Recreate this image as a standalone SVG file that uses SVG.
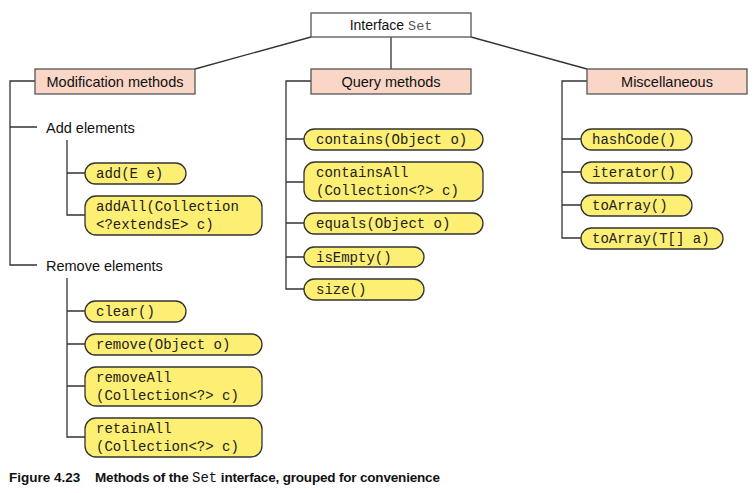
<svg xmlns="http://www.w3.org/2000/svg" width="756" height="493" viewBox="0 0 756 493">
<style>
.ln{stroke:#333;stroke-width:1.3;fill:none}
.hdr{fill:#f9d6c6;stroke:#555;stroke-width:1.3}
.top{fill:#fff;stroke:#555;stroke-width:1.3}
.pill{fill:#fdee74;stroke:#333;stroke-width:1.3}
.sans{font-family:"Liberation Sans",Arial,sans-serif;font-size:14.5px;fill:#111}
.mono{font-family:"Liberation Mono","Courier New",monospace;font-size:14px;fill:#222}
.cap{font-family:"Liberation Sans",Arial,sans-serif;font-size:13.5px;font-weight:bold;fill:#111}
</style>
<rect width="756" height="493" fill="#fff"/>
<g id="connectors">
<path class="ln" d="M311,37 L195,69 M391,37 V69 M471,37 L587,69"/>
<path class="ln" d="M35,81 H10 V265 H37 M10,127 H37"/>
<path class="ln" d="M67,140 V215 H85 M67,173 H85"/>
<path class="ln" d="M67,278 V437 H85 M67,311 H85 M67,344 H85 M67,386 H85"/>
<path class="ln" d="M311,81 H286 V289 H304 M286,139 H304 M286,182 H304 M286,223 H304 M286,257 H304"/>
<path class="ln" d="M587,81 H562 V238 H581 M562,139 H581 M562,172 H581 M562,205 H581"/>
</g>
<g id="interface-set">
<rect class="top" x="311" y="13" width="160" height="24"/>
<text x="391" y="30" text-anchor="middle" class="sans" style="font-size:14px">Interface <tspan class="mono" style="font-size:13.5px;fill:#555">Set</tspan></text>
</g>
<g id="modification-methods">
<rect class="hdr" x="35" y="69" width="160" height="25"/>
<text x="115" y="86.5" text-anchor="middle" class="sans">Modification methods</text>
</g>
<g id="query-methods">
<rect class="hdr" x="311" y="69" width="160" height="25"/>
<text x="391" y="86.5" text-anchor="middle" class="sans">Query methods</text>
</g>
<g id="miscellaneous">
<rect class="hdr" x="587" y="69" width="160" height="25"/>
<text x="667" y="86.5" text-anchor="middle" class="sans">Miscellaneous</text>
</g>
<g id="add-elements"><text x="46" y="132.5" class="sans">Add elements</text></g>
<g id="remove-elements"><text x="46" y="270.5" class="sans">Remove elements</text></g>
<g id="add"><rect class="pill" x="85" y="163" width="101" height="21" rx="10.5"/><text x="96" y="178" class="mono">add(E e)</text></g>
<g id="addAll"><rect class="pill" x="85" y="196" width="177" height="39" rx="11"/><text class="mono"><tspan x="96" y="210.5">addAll(Collection</tspan><tspan x="96" y="228.5">&lt;?extendsE&gt; c)</tspan></text></g>
<g id="clear"><rect class="pill" x="85" y="301" width="101" height="21" rx="10.5"/><text x="96" y="316" class="mono">clear()</text></g>
<g id="remove"><rect class="pill" x="85" y="334" width="177" height="21" rx="10.5"/><text x="96" y="349" class="mono">remove(Object o)</text></g>
<g id="removeAll"><rect class="pill" x="85" y="367" width="177" height="39" rx="11"/><text class="mono"><tspan x="96" y="381.5">removeAll</tspan><tspan x="96" y="399.5">(Collection&lt;?&gt; c)</tspan></text></g>
<g id="retainAll"><rect class="pill" x="85" y="418" width="177" height="39" rx="11"/><text class="mono"><tspan x="96" y="432.5">retainAll</tspan><tspan x="96" y="450.5">(Collection&lt;?&gt; c)</tspan></text></g>
<g id="contains"><rect class="pill" x="304" y="129" width="179" height="21" rx="10.5"/><text x="316" y="144" class="mono">contains(Object o)</text></g>
<g id="containsAll"><rect class="pill" x="304" y="162" width="179" height="39" rx="11"/><text class="mono"><tspan x="316" y="176.5">containsAll</tspan><tspan x="316" y="194.5">(Collection&lt;?&gt; c)</tspan></text></g>
<g id="equals"><rect class="pill" x="304" y="213" width="179" height="21" rx="10.5"/><text x="316" y="228" class="mono">equals(Object o)</text></g>
<g id="isEmpty"><rect class="pill" x="304" y="247" width="120" height="20" rx="10"/><text x="316" y="261.5" class="mono">isEmpty()</text></g>
<g id="size"><rect class="pill" x="304" y="279" width="120" height="21" rx="10.5"/><text x="316" y="294" class="mono">size()</text></g>
<g id="hashCode"><rect class="pill" x="581" y="129" width="111" height="21" rx="10.5"/><text x="592" y="144" class="mono">hashCode()</text></g>
<g id="iterator"><rect class="pill" x="581" y="162" width="111" height="21" rx="10.5"/><text x="592" y="177" class="mono">iterator()</text></g>
<g id="toArray"><rect class="pill" x="581" y="195" width="111" height="21" rx="10.5"/><text x="592" y="210" class="mono">toArray()</text></g>
<g id="toArrayT"><rect class="pill" x="581" y="228" width="142" height="21" rx="10.5"/><text x="592" y="243" class="mono">toArray(T[] a)</text></g>
<g id="caption"><text x="9" y="482" class="cap">Figure 4.23<tspan x="95" letter-spacing="-0.18">Methods of the </tspan><tspan style="font-family:'Liberation Mono','Courier New',monospace;font-weight:normal;font-size:14px">Set</tspan><tspan letter-spacing="-0.18"> interface, grouped for convenience</tspan></text></g>
</svg>
